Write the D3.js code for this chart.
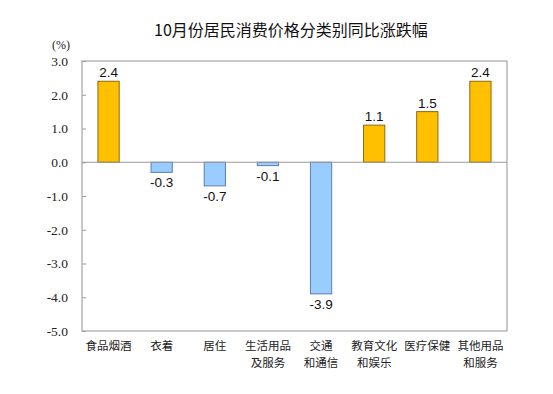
<!DOCTYPE html>
<html>
<head>
<meta charset="utf-8">
<script src="https://cdn.jsdelivr.net/npm/d3@7"></script>
<style>
  body { margin: 0; background: #fff; }
  svg { display: block; }
</style>
</head>
<body>
<svg id="chart" width="553" height="394"></svg>
<script>
// data
var categories = [["食品烟酒"], ["衣着"], ["居住"], ["生活用品", "及服务"], ["交通", "和通信"],
                  ["教育文化", "和娱乐"], ["医疗保健"], ["其他用品", "和服务"]];
var values = [2.4, -0.3, -0.7, -0.1, -3.9, 1.1, 1.5, 2.4];
var yTicks = [3, 2, 1, 0, -1, -2, -3, -4, -5];

var svg = d3.select("#chart");
// plot box (window.top is reserved, so plotTop etc.)
var plotLeft = 82, plotRight = 507, plotTop = 61, plotBottom = 331;

// one decimal, plain hyphen for the minus sign like the original
var fmt = d3.formatLocale({ decimal: ".", thousands: ",", grouping: [3], currency: ["", ""], minus: "-" }).format(".1f");

var x = d3.scaleBand()
    .domain(d3.range(categories.length))
    .range([plotLeft, plotRight])
    .paddingInner(0.6)
    .paddingOuter(0.3);

var y = d3.scaleLinear().domain([-5, 3]).range([plotBottom, plotTop]);

// title
svg.append("text")
    .attr("x", 291).attr("y", 36)
    .attr("text-anchor", "middle")
    .attr("font-family", "'Noto Sans CJK SC', sans-serif")
    .attr("font-size", "16px")
    .attr("fill", "#111")
    .text("10月份居民消费价格分类别同比涨跌幅");

// unit label
svg.append("text")
    .attr("x", 61).attr("y", 49)
    .attr("text-anchor", "middle")
    .attr("font-family", "'Liberation Serif', serif")
    .attr("font-size", "12px")
    .attr("fill", "#222")
    .text("(%)");

// y axis, ticks pointing inward
var yAxis = svg.append("g")
    .attr("transform", "translate(" + plotLeft + ",0)")
    .call(d3.axisLeft(y).tickValues(yTicks).tickSize(-4).tickPadding(14)
        .tickFormat(fmt));
yAxis.select(".domain").remove();
yAxis.selectAll(".tick line").attr("stroke", "#999");
yAxis.selectAll(".tick text")
    .attr("font-family", "'Liberation Serif', serif")
    .attr("font-size", "13.5px")
    .attr("fill", "#222");

// plot frame
svg.append("rect")
    .attr("x", plotLeft).attr("y", plotTop)
    .attr("width", plotRight - plotLeft).attr("height", plotBottom - plotTop)
    .attr("fill", "none")
    .attr("stroke", "#a6a6a6")
    .attr("stroke-width", 1.2);

// bars
svg.append("g").selectAll("rect")
    .data(values)
    .enter()
    .append("rect")
    .attr("x", function(d, i) { return x(i); })
    .attr("y", function(d) { return y(Math.max(d, 0)); })
    .attr("width", x.bandwidth())
    .attr("height", function(d) { return Math.abs(y(d) - y(0)); })
    .attr("fill", function(d) { return d >= 0 ? "#ffc000" : "#99ccff"; })
    .attr("stroke", function(d) { return d >= 0 ? "#8a6a10" : "#5a7fae"; })
    .attr("stroke-width", 1);

// zero line
svg.append("line")
    .attr("x1", plotLeft).attr("x2", plotRight)
    .attr("y1", y(0)).attr("y2", y(0))
    .attr("stroke", "#999")
    .attr("stroke-width", 1.2);

// value labels
svg.append("g").selectAll("text")
    .data(values)
    .enter()
    .append("text")
    .attr("x", function(d, i) { return x(i) + x.bandwidth() / 2; })
    .attr("y", function(d) { return d >= 0 ? y(d) - 4 : y(d) + 15; })
    .attr("text-anchor", "middle")
    .attr("font-family", "'Liberation Sans', Arial, sans-serif")
    .attr("font-size", "13.5px")
    .attr("fill", "#111")
    .text(function(d) { return fmt(d); });

// category labels
var cat = svg.append("g").selectAll("text")
    .data(categories)
    .enter()
    .append("text")
    .attr("text-anchor", "middle")
    .attr("font-family", "'Noto Sans CJK SC', sans-serif")
    .attr("font-size", "11.5px")
    .attr("fill", "#222");

cat.selectAll("tspan")
    .data(function(d, i) { return d.map(function(s) { return { s: s, i: i }; }); })
    .enter()
    .append("tspan")
    .attr("x", function(d) { return x(d.i) + x.bandwidth() / 2; })
    .attr("y", function(d, j) { return 350 + j * 16.5; })
    .text(function(d) { return d.s; });
</script>
</body>
</html>
